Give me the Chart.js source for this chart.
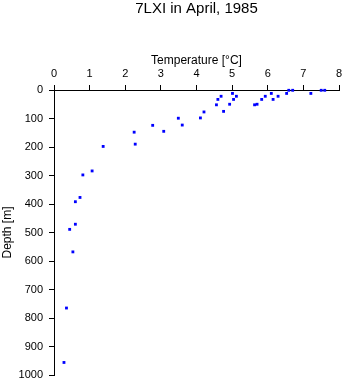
<!DOCTYPE html>
<html>
<head>
<meta charset="utf-8">
<script src="https://cdn.jsdelivr.net/npm/chart.js@4.4.0/dist/chart.umd.min.js"></script>
<style>
  html, body { margin: 0; padding: 0; background: #fff; }
  #wrap { width: 345px; height: 384px; }
</style>
</head>
<body>
<div id="wrap"><canvas id="profile"></canvas></div>
<script>
// temperature (°C) and depth (m)
const temperature = [7.60, 7.50, 6.70, 6.59, 7.21, 6.53, 6.10, 5.01, 6.29, 5.93, 5.12, 4.69,
  6.15, 5.83, 5.04, 4.60, 5.70, 5.63, 4.93, 4.56, 4.76, 4.21, 4.11, 3.49, 3.60, 2.77,
  3.08, 2.25, 2.28, 1.38, 1.07, 0.81, 0.73, 0.60, 0.60, 0.44, 0.53, 0.35, 0.28];
const depth = [1, 1, 1, 1, 12, 12, 12, 12, 22, 22, 22, 22,
  33, 33, 33, 33, 50, 52, 50, 52, 75, 77, 98, 99, 123, 124,
  145, 148, 190, 198, 284, 298, 377, 392, 471, 489, 568, 765, 956];
const xTicks = [0, 1, 2, 3, 4, 5, 6, 7, 8];
const yTicks = [0, 100, 200, 300, 400, 500, 600, 700, 800, 900, 1000];

const points = temperature.map((t, i) => ({ x: t, y: depth[i] }));
const font = { family: 'Liberation Sans, Arial, sans-serif', size: 11 };

new Chart(document.getElementById('profile'), {
    type: 'scatter',
    data: {
        datasets: [{
            data: points,
            pointStyle: 'rect',
            pointRadius: 2,
            pointHoverRadius: 2,
            backgroundColor: '#0000ff',
            borderColor: '#0000ff',
            borderWidth: 0,
            clip: false
        }]
    },
    options: {
        responsive: true,
        maintainAspectRatio: false,
        animation: false,
        layout: { padding: { top: 0, right: 6, bottom: 9, left: 0 } },
        plugins: {
            legend: { display: false },
            tooltip: { enabled: false },
            title: {
                display: true,
                text: '7LXI in April, 1985',
                fullSize: false,
                color: '#000',
                font: { family: 'Liberation Sans, Arial, sans-serif', size: 15, weight: 'normal' },
                padding: { top: 0, bottom: 10 }
            }
        },
        scales: {
            x: {
                type: 'linear',
                position: 'top',
                min: 0,
                max: 8,
                afterBuildTicks: s => { s.ticks = xTicks.map(v => ({ value: v })); },
                afterFit: s => { s.height = 62; s.paddingRight = 0; },
                ticks: { color: '#000', font: font, padding: 4, maxRotation: 0, callback: v => String(v) },
                grid: { display: true, drawOnChartArea: false, drawTicks: true, tickLength: 5, color: '#000' },
                border: { display: true, color: '#000', width: 1 },
                title: {
                    display: true,
                    text: 'Temperature [°C]',
                    color: '#000',
                    font: { family: 'Liberation Sans, Arial, sans-serif', size: 12 },
                    padding: { top: 25, bottom: 0 }
                }
            },
            y: {
                type: 'linear',
                reverse: true,
                min: 0,
                max: 1000,
                afterBuildTicks: s => { s.ticks = yTicks.map(v => ({ value: v })); },
                afterFit: s => { s.width = 54; s.paddingTop = 0; s.paddingBottom = 0; },
                ticks: { color: '#000', font: font, padding: 6, callback: v => String(v) },
                grid: { display: true, drawOnChartArea: false, drawTicks: true, tickLength: 5, color: '#000' },
                border: { display: true, color: '#000', width: 1 },
                title: {
                    display: true,
                    text: 'Depth [m]',
                    color: '#000',
                    font: { family: 'Liberation Sans, Arial, sans-serif', size: 12 },
                    padding: { top: 0, bottom: 0 }
                }
            }
        }
    }
});
</script>
</body>
</html>
